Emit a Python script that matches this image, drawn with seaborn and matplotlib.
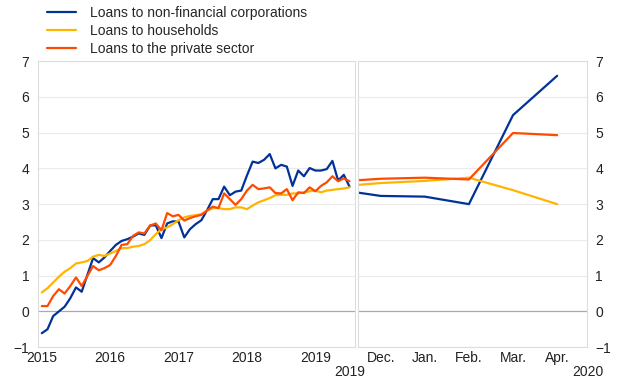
import numpy as np
import pandas as pd
import matplotlib
matplotlib.use("Agg")
from matplotlib import pyplot as plt
import seaborn as sns

# monthly values, Jan 2015 onwards (left panel)
nfc = [-0.61, -0.50, -0.13, 0.00, 0.13, 0.37, 0.67, 0.55, 1.02, 1.49, 1.37, 1.51,
       1.69, 1.86, 1.97, 2.02, 2.09, 2.18, 2.14, 2.40, 2.41, 2.05, 2.46, 2.52,
       2.51, 2.07, 2.30, 2.44, 2.55, 2.83, 3.14, 3.14, 3.49, 3.25, 3.35, 3.38,
       3.80, 4.19, 4.15, 4.24, 4.40, 4.00, 4.10, 4.05, 3.51, 3.94, 3.78, 4.01,
       3.94, 3.94, 3.98, 4.21, 3.66, 3.82, 3.49]
households = [0.53, 0.65, 0.81, 0.97, 1.11, 1.21, 1.34, 1.37, 1.41, 1.53, 1.58, 1.55,
              1.62, 1.69, 1.77, 1.77, 1.81, 1.83, 1.88, 1.99, 2.16, 2.30, 2.35, 2.44,
              2.55, 2.63, 2.67, 2.69, 2.72, 2.82, 2.89, 2.89, 2.86, 2.86, 2.91, 2.91,
              2.86, 2.96, 3.05, 3.11, 3.17, 3.25, 3.26, 3.26, 3.30, 3.30, 3.33, 3.36,
              3.38, 3.33, 3.38, 3.40, 3.42, 3.44, 3.47]
private = [0.15, 0.15, 0.43, 0.62, 0.50, 0.71, 0.95, 0.71, 0.99, 1.27, 1.15, 1.21,
           1.30, 1.55, 1.86, 1.88, 2.11, 2.21, 2.18, 2.40, 2.46, 2.27, 2.75, 2.66,
           2.70, 2.54, 2.61, 2.66, 2.70, 2.82, 2.93, 2.89, 3.30, 3.14, 2.98, 3.14,
           3.38, 3.54, 3.42, 3.44, 3.47, 3.31, 3.30, 3.42, 3.11, 3.33, 3.31, 3.47,
           3.36, 3.51, 3.61, 3.78, 3.64, 3.72, 3.64]
year_labels = ["2015", "2016", "2017", "2018", "2019"]

# right panel: end-Nov 2019 to Apr 2020
recent_x = [-0.5, 0, 1, 2, 3, 4]
recent_labels = ["Dec.", "Jan.", "Feb.", "Mar.", "Apr."]
nfc_recent = [3.32, 3.23, 3.21, 3.00, 5.49, 6.59]
households_recent = [3.54, 3.59, 3.65, 3.74, 3.39, 3.00]
private_recent = [3.67, 3.71, 3.74, 3.69, 4.99, 4.93]

series = ["Loans to non-financial corporations", "Loans to households",
          "Loans to the private sector"]
colors = {series[0]: "#003299", series[1]: "#ffb400", series[2]: "#ff4b00"}

n = len(nfc)
left = pd.DataFrame({"x": list(range(n)) * 3,
                     "value": nfc + households + private,
                     "series": [series[0]] * n + [series[1]] * n + [series[2]] * n})
m = len(recent_x)
right = pd.DataFrame({"x": recent_x * 3,
                      "value": nfc_recent + households_recent + private_recent,
                      "series": [series[0]] * m + [series[1]] * m + [series[2]] * m})

sns.set_style("white")
plt.rcParams["font.family"] = ["Liberation Sans", "DejaVu Sans"]
plt.rcParams["font.size"] = 10

fig = plt.figure(figsize=(6.2, 3.87), dpi=100)
ax1 = fig.add_axes([0.061, 0.103, 0.511, 0.739])
ax2 = fig.add_axes([0.577, 0.103, 0.370, 0.739])

sns.lineplot(data=left, x="x", y="value", hue="series", palette=colors,
             hue_order=series, linewidth=1.6, ax=ax1)
sns.lineplot(data=right, x="x", y="value", hue="series", palette=colors,
             hue_order=series, linewidth=1.6, ax=ax2, legend=False)

for ax in (ax1, ax2):
    ax.set_ylim(-1, 7)
    ax.set_yticks(range(-1, 8))
    for v in range(-1, 8):
        if v != 0:
            ax.axhline(v, color="#ebebeb", linewidth=0.8, zorder=0)
    ax.axhline(0, color="#aaaaaa", linewidth=0.9, zorder=1)
    for s in ax.spines.values():
        s.set_color("#dddddd")
        s.set_linewidth(0.8)
    ax.set_xlabel("")
    ax.set_ylabel("")
    ax.tick_params(axis="y", length=0, labelsize=10, colors="#222222", pad=6)
    ax.tick_params(axis="x", which="both", direction="in", length=4,
                   color="#dddddd", labelsize=10, labelcolor="#222222", pad=3)

ax1.set_xlim(-0.7, 54.9)
ax1.set_xticks([0, 12, 24, 36, 48])
ax1.set_xticklabels(year_labels)
ax1.set_xticks(np.arange(0, 55, 3), minor=True)

ax2.set_xlim(-0.52, 4.68)
ax2.set_xticks(range(5))
ax2.set_xticklabels(recent_labels)
ax2.set_xticks(np.arange(-0.5, 4.6, 0.5), minor=True)
ax2.yaxis.tick_right()

fig.text(0.564, 0.038, "2019", ha="center", va="center", fontsize=10, color="#222222")
fig.text(0.948, 0.038, "2020", ha="center", va="center", fontsize=10, color="#222222")

handles, labels = ax1.get_legend_handles_labels()
ax1.get_legend().remove()
fig.legend(handles, labels, loc="upper left", bbox_to_anchor=(0.055, 1.017),
           frameon=False, fontsize=10, handlelength=2.15, handletextpad=0.95,
           labelspacing=0.3)

fig.savefig("out.png", dpi=100)
